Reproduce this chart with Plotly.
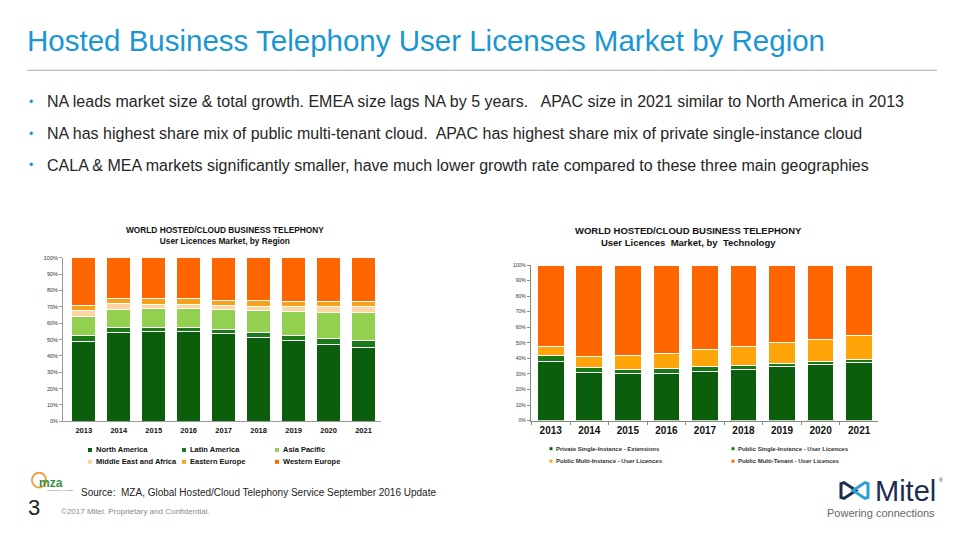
import plotly.graph_objects as go

# ---------------- data ----------------
years = ['2013', '2014', '2015', '2016', '2017', '2018', '2019', '2020', '2021']

region_names = ['North America', 'Latin America', 'Asia Pacific',
                'Middle East and Africa', 'Eastern Europe', 'Western Europe']
north_america = [48.6, 54.2, 55.0, 55.0, 53.5, 51.5, 49.5, 47.0, 45.2]
latin_america = [3.6, 3.0, 2.5, 2.5, 2.5, 3.0, 3.0, 3.5, 4.0]
asia_pacific = [12.0, 11.3, 11.5, 11.5, 12.5, 13.0, 14.5, 16.0, 17.5]
middle_east_africa = [3.8, 3.3, 2.5, 2.5, 2.5, 3.0, 3.0, 3.5, 3.3]
eastern_europe = [3.0, 3.2, 3.5, 3.5, 3.0, 3.5, 3.5, 3.5, 3.5]
western_europe = [29.0, 25.0, 25.0, 25.0, 26.0, 26.0, 26.5, 26.5, 26.5]
region_colors = ['#0b5e0b', '#1a7a1a', '#92d050', '#fcd5a2', '#f7a21b', '#ff6600']

tech_names = ['Private Single-Instance - Extensions', 'Public Single-Instance - User Licences',
              'Public Multi-Instance - User Licences', 'Public Multi-Tenant - User Licences']
private_single = [38.3, 31.1, 30.0, 30.6, 31.5, 33.0, 34.5, 36.0, 37.5]
public_single = [3.5, 3.2, 2.7, 3.0, 3.0, 2.5, 2.0, 2.0, 1.6]
public_multi_instance = [6.0, 7.0, 9.3, 9.7, 11.0, 12.0, 13.5, 14.0, 15.3]
public_multi_tenant = [52.2, 58.7, 58.0, 56.7, 54.5, 52.5, 50.0, 48.0, 45.6]
tech_colors = ['#0b5e0b', '#177817', '#ffa50a', '#ff6600']

region_series = [north_america, latin_america, asia_pacific,
                 middle_east_africa, eastern_europe, western_europe]
tech_series = [private_single, public_single, public_multi_instance, public_multi_tenant]

W, H = 960, 540
def px(x):
    return x / W
def py(y):
    return 1 - y / H

fig = go.Figure()

for name, vals, col in zip(region_names, region_series, region_colors):
    fig.add_trace(go.Bar(x=years, y=vals, name=name, marker_color=col,
                         marker_line_color='white', marker_line_width=1,
                         xaxis='x', yaxis='y', showlegend=False))
for name, vals, col in zip(tech_names, tech_series, tech_colors):
    fig.add_trace(go.Bar(x=years, y=vals, name=name, marker_color=col,
                         marker_line_color='white', marker_line_width=1,
                         xaxis='x2', yaxis='y2', showlegend=False))

FONT = 'Liberation Sans, Arial, sans-serif'

fig.update_layout(
    width=W, height=H, barmode='stack', bargap=0.31,
    margin=dict(l=0, r=0, t=0, b=0),
    paper_bgcolor='white', plot_bgcolor='white',
    font=dict(family=FONT, color='#222'),
    xaxis=dict(domain=[px(63), px(381)], type='category', range=[-0.594, 8.5],
               showline=True, linecolor='#999', linewidth=1, ticks='',
               tickfont=dict(size=7.5, color='#111', weight='bold'), ticklabelstandoff=2,
               showgrid=False, fixedrange=True),
    yaxis=dict(domain=[py(423), py(257.7)], range=[0, 100], dtick=10, ticksuffix='%',
               showline=True, linecolor='#999', linewidth=1, ticks='outside', ticklen=3,
               tickcolor='#999', tickfont=dict(size=5.5, color='#333'),
               showgrid=False, zeroline=False, fixedrange=True),
    xaxis2=dict(domain=[px(530.7), px(878.4)], type='category', range=[-0.52, 8.5],
                anchor='y2', showline=True, linecolor='#888', linewidth=1,
                ticks='outside', tickson='boundaries', ticklen=3, tickcolor='#888',
                tickfont=dict(size=10, color='#111', weight='bold'),
                showgrid=False, fixedrange=True),
    yaxis2=dict(domain=[py(422.3), py(265)], range=[0, 100], dtick=10, ticksuffix='%',
                anchor='x2', showline=True, linecolor='#888', linewidth=1,
                ticks='outside', ticklen=3, tickcolor='#888',
                tickfont=dict(size=5, color='#333'),
                showgrid=False, zeroline=False, fixedrange=True),
)

ann = []
shapes = []

# slide title and rule
ann.append(dict(x=px(25), y=py(38), xref='paper', yref='paper', xanchor='left', yanchor='middle',
                text='Hosted Business Telephony User Licenses Market by Region', showarrow=False,
                font=dict(size=29.5, color='#1996d3', family=FONT)))
shapes.append(dict(type='line', xref='paper', yref='paper', x0=px(27), x1=px(937),
                   y0=py(68), y1=py(68), line=dict(color='#aaaaaa', width=1)))

bullets = [
    'NA leads market size &amp; total growth. EMEA size lags NA by 5 years.   APAC size in 2021 similar to North America in 2013',
    'NA has highest share mix of public multi-tenant cloud.  APAC has highest share mix of private single-instance cloud',
    'CALA &amp; MEA markets significantly smaller, have much lower growth rate compared to these three main geographies',
]
for i, b in enumerate(bullets):
    yb = 100 + 32 * i
    ann.append(dict(x=px(31), y=py(yb), xref='paper', yref='paper', xanchor='center', yanchor='middle',
                    text='•', showarrow=False, font=dict(size=12, color='#1996d3', family=FONT)))
    ann.append(dict(x=px(45), y=py(yb), xref='paper', yref='paper', xanchor='left', yanchor='middle',
                    text=b.replace('   ', '&nbsp;&nbsp; '), showarrow=False,
                    font=dict(size=16, color='#262626', family=FONT)))

# chart titles
ann.append(dict(x=px(225), y=py(235), xref='paper', yref='paper', xanchor='center', yanchor='middle',
                text='<b>WORLD HOSTED/CLOUD BUSINESS TELEPHONY</b><br><b>User Licences Market, by Region</b>',
                showarrow=False, font=dict(size=8.3, color='#111', family=FONT)))
ann.append(dict(x=px(688), y=py(236.5), xref='paper', yref='paper', xanchor='center', yanchor='middle',
                text='<b>WORLD HOSTED/CLOUD BUSINESS TELEPHONY</b><br><b>User Licences  Market, by  Technology</b>',
                showarrow=False, font=dict(size=9.5, color='#111', family=FONT)))

# legend, left chart
lx = [90, 184, 277]
ly = [452, 464]
for i, (name, col) in enumerate(zip(region_names, region_colors)):
    r, c = divmod(i, 3)
    shapes.append(dict(type='rect', xref='paper', yref='paper',
                       x0=px(lx[c] - 2), x1=px(lx[c] + 2), y0=py(ly[r] + 2), y1=py(ly[r] - 2),
                       fillcolor=col, line=dict(width=0)))
    ann.append(dict(x=px(lx[c] + 4), y=py(ly[r]), xref='paper', yref='paper', xanchor='left',
                    yanchor='middle', text='<b>' + name + '</b>', showarrow=False,
                    font=dict(size=7.5, color='#111', family=FONT)))

# legend, right chart
rx = [551, 733]
ry = [450.7, 463.3]
for i, (name, col) in enumerate(zip(tech_names, tech_colors)):
    r, c = divmod(i, 2)
    shapes.append(dict(type='rect', xref='paper', yref='paper',
                       x0=px(rx[c] - 1.5), x1=px(rx[c] + 1.5), y0=py(ry[r] + 1.5), y1=py(ry[r] - 1.5),
                       fillcolor=col, line=dict(width=0)))
    ann.append(dict(x=px(rx[c] + 2.5), y=py(ry[r]), xref='paper', yref='paper', xanchor='left',
                    yanchor='middle', text='<b>' + name + '</b>', showarrow=False,
                    font=dict(size=6, color='#333', family=FONT)))

# footer: MZA logo, source, page number, copyright
shapes.append(dict(type='circle', xref='paper', yref='paper', x0=px(32), x1=px(46),
                   y0=py(490), y1=py(475), line=dict(color='#f0a040', width=2)))
ann.append(dict(x=px(37), y=py(485), xref='paper', yref='paper', xanchor='left', yanchor='middle',
                text='<b>mza</b>', showarrow=False, font=dict(size=12, color='#3a8f3a', family=FONT)))
ann.append(dict(x=px(45), y=py(493), xref='paper', yref='paper', xanchor='left', yanchor='middle',
                text='Telecoms &amp; IT Analysts', showarrow=False, font=dict(size=2.5, color='#555', family=FONT)))
ann.append(dict(x=px(79), y=py(495), xref='paper', yref='paper', xanchor='left', yanchor='middle',
                text='Source:  MZA, Global Hosted/Cloud Telephony Service September 2016 Update',
                showarrow=False, font=dict(size=10, color='#222', family=FONT)))
ann.append(dict(x=px(34), y=py(510), xref='paper', yref='paper', xanchor='center', yanchor='middle',
                text='3', showarrow=False, font=dict(size=22, color='#222', family=FONT)))
ann.append(dict(x=px(59), y=py(514), xref='paper', yref='paper', xanchor='left', yanchor='middle',
                text='©2017 Mitel. Proprietary and Confidential.', showarrow=False,
                font=dict(size=8, color='#8a8a8a', family=FONT)))

# Mitel logo
def path(points):
    return 'M ' + ' L '.join(f'{px(x):.5f},{py(y):.5f}' for x, y in points) + ' Z'
shapes.append(dict(type='path', xref='paper', yref='paper',
                   path=path([(841, 486), (844, 485), (856, 493), (844, 501), (841, 500)]),
                   line=dict(color='#1c2d4f', width=3), fillcolor='rgba(0,0,0,0)'))
shapes.append(dict(type='path', xref='paper', yref='paper',
                   path=path([(868, 486), (865, 485), (853, 493), (865, 501), (868, 500)]),
                   line=dict(color='#2a9fd8', width=3), fillcolor='rgba(0,0,0,0)'))
ann.append(dict(x=px(873), y=py(493), xref='paper', yref='paper', xanchor='left', yanchor='middle',
                text='Mitel', showarrow=False, font=dict(size=29, color='#1c2d4f', family=FONT)))
ann.append(dict(x=px(937), y=py(482), xref='paper', yref='paper', xanchor='left', yanchor='middle',
                text='®', showarrow=False, font=dict(size=5, color='#1c2d4f', family=FONT)))
ann.append(dict(x=px(937), y=py(516), xref='paper', yref='paper', xanchor='right', yanchor='middle',
                text='Powering connections', showarrow=False, font=dict(size=11, color='#666', family=FONT)))

fig.update_layout(annotations=ann, shapes=shapes)
fig.write_html('out.html', config={'displayModeBar': False},
               post_script="document.body.style.margin='0';document.body.style.overflow='hidden';")
